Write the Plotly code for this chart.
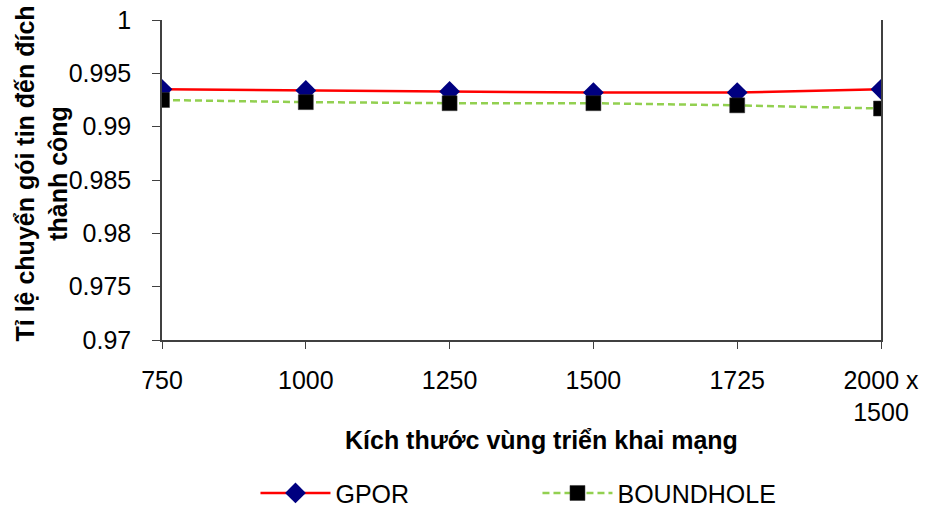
import plotly.graph_objects as go

# Network deployment area sizes (categories) and delivery ratios
categories = ["750", "1000", "1250", "1500", "1725", "2000 x<br>1500"]
gpor = [0.9935, 0.9934, 0.9933, 0.9932, 0.9932, 0.9935]
boundhole = [0.9925, 0.9923, 0.9922, 0.9922, 0.9920, 0.9917]
y_ticks = [0.97, 0.975, 0.98, 0.985, 0.99, 0.995, 1]
y_tick_text = ["0.97", "0.975", "0.98", "0.985", "0.99", "0.995", "1"]

FONT = "Liberation Sans, Arial, sans-serif"

fig = go.Figure()
fig.add_trace(go.Scatter(
    x=categories, y=gpor, name="GPOR", mode="lines+markers",
    line=dict(color="#FF0000", width=2.5),
    marker=dict(symbol="diamond", size=16, color="#000080"),
))
fig.add_trace(go.Scatter(
    x=categories, y=boundhole, name="BOUNDHOLE", mode="lines+markers",
    line=dict(color="#92D050", width=2.5, dash="7px,4px"),
    marker=dict(symbol="square", size=15, color="#000000",
                line=dict(color="#333333", width=0.5)),
))

fig.update_layout(
    width=925, height=509,
    margin=dict(l=162, r=44, t=20, b=169),
    paper_bgcolor="white", plot_bgcolor="white",
    font=dict(family=FONT, size=25, color="black"),
    showlegend=True,
    legend=dict(orientation="h", x=0.13, y=0.031, xanchor="left", yanchor="middle",
                yref="container", font=dict(size=25), itemwidth=70,
                entrywidth=197, entrywidthmode="pixels"),
    annotations=[
        dict(text="<b>Kích thước vùng triển khai mạng</b>", xref="paper", yref="paper",
             x=0.528, y=-0.3125, xanchor="center", yanchor="middle", showarrow=False,
             font=dict(size=25)),
        dict(text="<b>Tỉ lệ chuyển gói tin đến đích<br>thành công</b>", xref="paper", yref="paper",
             x=-0.167, y=0.52, xanchor="center", yanchor="middle", showarrow=False,
             textangle=-90, font=dict(size=25)),
    ],
)
fig.update_xaxes(
    type="category", range=[0, 5], showline=True, linecolor="#404040", linewidth=1.5,
    ticks="outside", ticklen=7, tickcolor="#404040", showgrid=False, zeroline=False,
    ticklabelstandoff=10, automargin=False,
)
fig.update_yaxes(
    range=[0.97, 1], tickvals=y_ticks, ticktext=y_tick_text,
    showline=True, linecolor="#404040", linewidth=1.5, mirror=True,
    ticks="outside", ticklen=8, tickcolor="#404040", showgrid=False, zeroline=False,
    ticklabelstandoff=16, automargin=False,
)

fig.write_html("out.html")
